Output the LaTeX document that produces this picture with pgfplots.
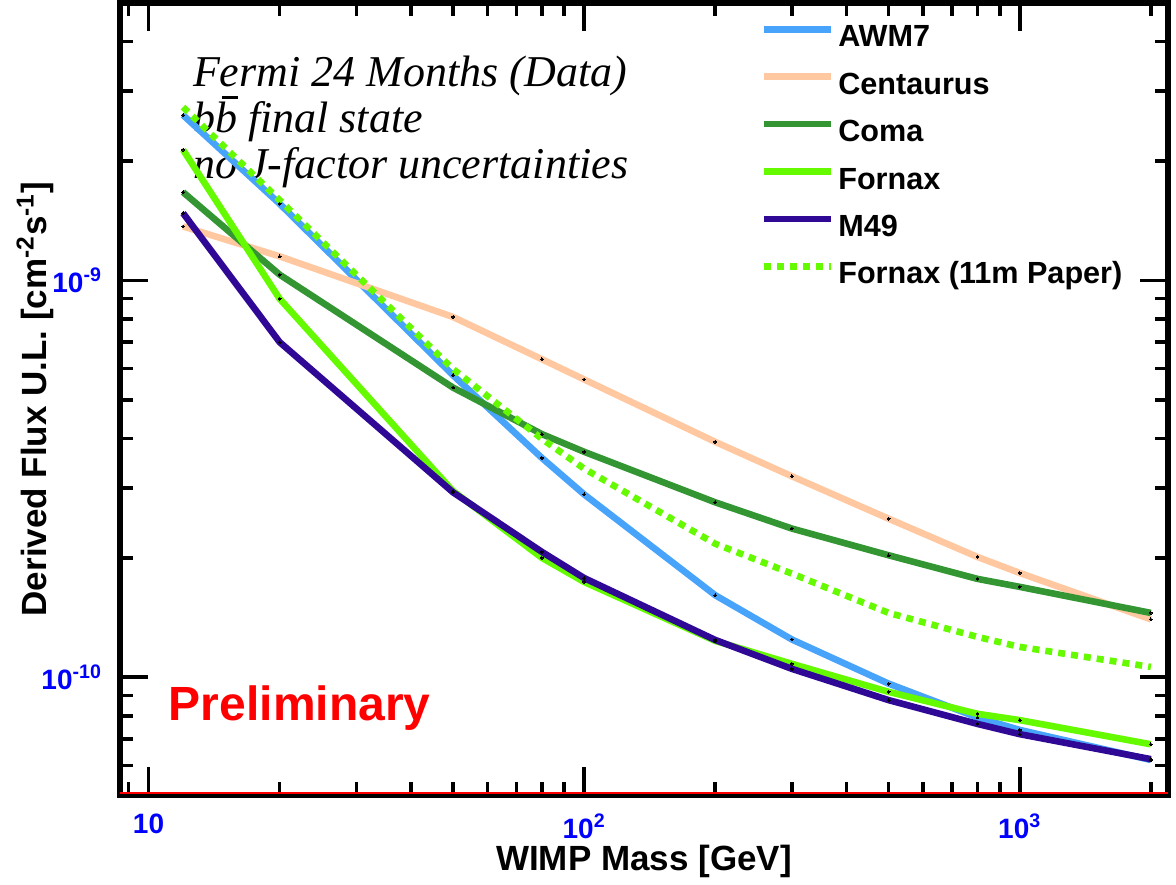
\documentclass[border=0pt]{standalone}
\usepackage{pgfplots}
\pgfplotsset{compat=1.18}
\usepackage{fontspec}
\setmainfont{Liberation Sans}
\newfontfamily\serifit{Liberation Serif}
\definecolor{awm}{RGB}{72,163,250}
\definecolor{cen}{RGB}{255,200,160}
\definecolor{coma}{RGB}{51,150,51}
\definecolor{forn}{RGB}{102,250,0}
\definecolor{mfn}{RGB}{48,8,150}
\newcommand{\bbar}{\leavevmode\rlap{\hspace{0.16em}\rule[0.78em]{0.36em}{0.05em}}b}
\begin{document}
\begin{tikzpicture}
\begin{axis}[
  name=ax,
  xmode=log, ymode=log,
  scale only axis,
  width=524bp, height=396bp,
  xmin=8.6, xmax=2190, ymin=5.05e-11, ymax=5e-9,
  clip=false,
  axis line style={line width=3bp},
  tick style={line width=1.8bp, black},
  major tick length=14bp, minor tick length=6.5bp,
  xtick={10,100,1000},
  xticklabels={10,10\textsuperscript{2},10\textsuperscript{3}},
  minor xtick={9,20,30,40,50,60,70,80,90,200,300,400,500,600,700,800,900,2000},
  ytick={1e-10,1e-9},
  yticklabels={10\textsuperscript{-10},10\textsuperscript{-9}},
  minor ytick={6e-11,7e-11,8e-11,9e-11,2e-10,3e-10,4e-10,5e-10,6e-10,7e-10,8e-10,9e-10,2e-9,3e-9,4e-9},
  ticklabel style={font=\fontsize{14bp}{16bp}\selectfont\bfseries, text=blue},
  xticklabel style={yshift=-6bp},
  yticklabel style={xshift=-5.5bp},
  xlabel={WIMP Mass [GeV]},
  ylabel={Derived Flux U.L. [cm\textsuperscript{-2}s\textsuperscript{-1}]},
  label style={font=\fontsize{17.5bp}{20bp}\selectfont\bfseries},
  xlabel style={at={(axis description cs:0.5,-0.0955)}, anchor=base},
  ylabel style={at={(axis description cs:-0.0705,0.5)}, anchor=base, rotate=0},
  legend style={at={(rel axis cs:0.611,0.978)}, anchor=north west, draw=none, fill=none,
    inner sep=0pt, row sep=5.2bp,
    font=\fontsize{15.3bp}{17bp}\selectfont\bfseries,
    nodes={inner sep=2bp, text height=11bp, text depth=3.5bp}},
  legend cell align=left,
  legend image code/.code={\draw[#1] (0bp,5bp) -- (33.5bp,5bp);},
  every axis plot/.append style={line width=3.3bp},
]
\node[anchor=base west, font=\serifit\itshape\fontsize{22bp}{24bp}\selectfont] at (rel axis cs:0.063,0.895) {Fermi 24 Months (Data)};
\node[anchor=base west, font=\serifit\itshape\fontsize{22bp}{24bp}\selectfont] at (rel axis cs:0.063,0.836) {b\bbar{} final state};
\node[anchor=base west, font=\serifit\itshape\fontsize{22bp}{24bp}\selectfont] at (rel axis cs:0.063,0.779) {no J-factor uncertainties};
\node[anchor=base west, text=red, font=\fontsize{24bp}{26bp}\selectfont\bfseries] at (rel axis cs:0.040,0.0947) {Preliminary};

\addplot[awm, mark=*, mark size=0.7bp, mark options={black, line width=0pt}] coordinates {
(12,2.61e-9) (20,1.56e-9) (50,5.77e-10) (80,3.57e-10) (100,2.89e-10) (200,1.61e-10) (300,1.245e-10) (500,9.64e-11) (800,7.92e-11) (1000,7.37e-11) (2000,6.19e-11)};
\addlegendentry{AWM7}
\addplot[cen, mark=*, mark size=0.7bp, mark options={black, line width=0pt}] coordinates {
(12,1.368e-9) (20,1.15e-9) (50,8.09e-10) (80,6.33e-10) (100,5.63e-10) (200,3.92e-10) (300,3.21e-10) (500,2.51e-10) (800,2.01e-10) (1000,1.832e-10) (2000,1.40e-10)};
\addlegendentry{Centaurus}
\addplot[coma, mark=*, mark size=0.7bp, mark options={black, line width=0pt}] coordinates {
(12,1.669e-9) (20,1.034e-9) (50,5.37e-10) (80,4.10e-10) (100,3.70e-10) (200,2.76e-10) (300,2.37e-10) (500,2.03e-10) (800,1.77e-10) (1000,1.69e-10) (2000,1.453e-10)};
\addlegendentry{Coma}
\addplot[forn, mark=*, mark size=0.7bp, mark options={black, line width=0pt}] coordinates {
(12,2.134e-9) (20,8.99e-10) (50,2.947e-10) (80,2.0e-10) (100,1.739e-10) (200,1.235e-10) (300,1.081e-10) (500,9.19e-11) (800,8.09e-11) (1000,7.80e-11) (2000,6.78e-11)};
\addlegendentry{Fornax}
\addplot[mfn, mark=*, mark size=0.7bp, mark options={black, line width=0pt}] coordinates {
(12,1.478e-9) (20,6.99e-10) (50,2.925e-10) (80,2.07e-10) (100,1.779e-10) (200,1.242e-10) (300,1.05e-10) (500,8.76e-11) (800,7.63e-11) (1000,7.19e-11) (2000,6.22e-11)};
\addlegendentry{M49}
\addplot[forn, dash pattern=on 3.5bp off 3bp] coordinates {
(12,2.734e-9) (20,1.594e-9) (50,5.98e-10) (80,3.99e-10) (100,3.355e-10) (200,2.17e-10) (300,1.825e-10) (500,1.453e-10) (800,1.264e-10) (1000,1.193e-10) (2000,1.062e-10)};
\addlegendentry{Fornax (11m Paper)}

\draw[red, line width=1.2bp] ([yshift=0.9bp]rel axis cs:0,0) -- ([yshift=0.9bp]rel axis cs:1,0);
\end{axis}
\path (ax.south west) ++(-60bp,-41bp);
\path (ax.north east) ++(4bp,1.5bp);
\end{tikzpicture}
\end{document}
